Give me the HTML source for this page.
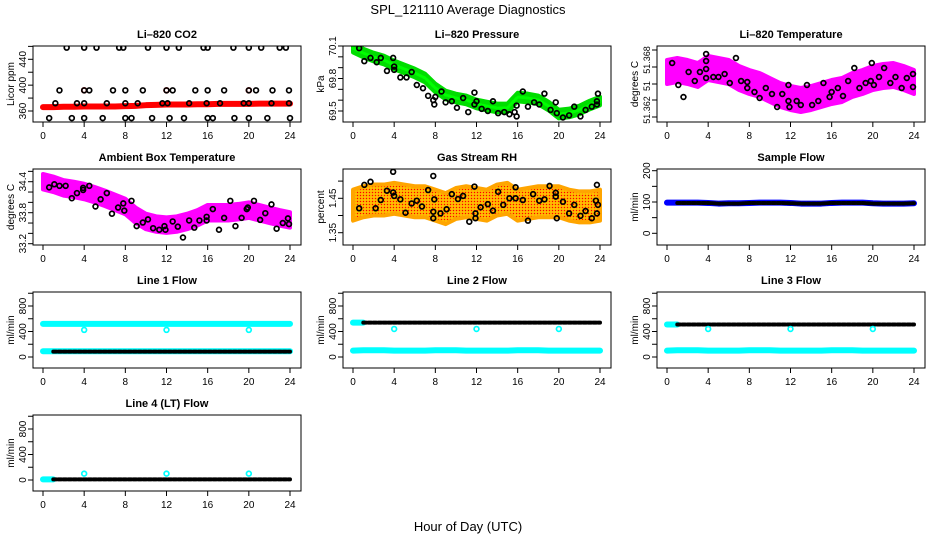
<!DOCTYPE html>
<html><head><meta charset="utf-8"><title>SPL_121110 Average Diagnostics</title>
<style>
html,body{margin:0;padding:0;background:#fff;}
svg{display:block;font-family:"Liberation Sans",Arial,sans-serif;}
</style></head>
<body>
<svg id="chart" width="936" height="540" viewBox="0 0 936 540" xmlns="http://www.w3.org/2000/svg">
<defs>
<pattern id="reddots" width="3" height="3" patternUnits="userSpaceOnUse"><rect width="3" height="3" fill="#ffa500"/><rect x="0" y="0" width="1" height="1" fill="#ff0000"/><rect x="1.5" y="1.5" width="1" height="1" fill="#ffff00"/></pattern>
</defs>
<text x="468" y="14" font-size="13" text-anchor="middle">SPL_121110  Average Diagnostics</text>
<text x="468" y="531" font-size="13" text-anchor="middle">Hour of Day (UTC)</text>
</svg>
<script>
// ---------- data ----------
const hours = [0,1,2,3,4,5,6,7,8,9,10,11,12,13,14,15,16,17,18,19,20,21,22,23,24];
const xTicks = [0,4,8,12,16,20,24];
const xTickLabels = ["0","4","8","12","16","20","24"];

// CO2
const co2Red = [366,366,366.5,366.5,367,367,367,367,367.5,368,369,369.5,370,370,370,370.5,370.5,371,371,371,371,371.5,371.5,371.5,371.5];
const co2BlackH = [2.3,4,5.2,7.4,7.8,10.2,12,13.2,15.6,16,18.5,20,21.2,23,23.6, 1.6,4,4.5,6.8,8,9.7,12,12.6,14.8,16,17.6,20,20.7,22.3,23.9, 1.2,3.3,4,6.2,8,9.2,11.6,12.1,14.2,15.9,17.2,19.5,20,22.2,23.9, 0.6,2.8,4,5.8,8,8.6,10.6,12.3,13.7,16,16.5,18.6,20,21.8,24];
const co2BlackV = [458,458,458,458,458,458,458,458,458,458,458,458,458,458,458, 392,392,392,392,392,392,392,392,392,392,392,392,392,392,392, 372,372,372,372,372,372,372,372,372,372,372,372,372,372,372, 349,349,349,349,349,349,349,349,349,349,349,349,349,349,349];
const co2RedOutH = [4,12,20];
const co2RedOutV = [392,392,392];
const co2Ticks = [360,380,400,420,440,460];
const co2TickLabels = ["360","","400","","440",""];

// Pressure
const presGreen = [70.08,70.035,69.998,69.971,69.925,69.888,69.851,69.805,69.712,69.648,69.62,69.602,69.565,69.546,69.528,69.528,69.629,69.62,69.602,69.546,69.472,69.482,69.509,69.555,69.592];
const presBlackH = [0.6,1.1,1.7,2.3,2.7,3.3,3.9,4,4,4.6,5.2,5.7,6.2,6.8,7.3,7.8,7.9,8,8.6,9,9.6,10.1,10.7,11.2,11.8,11.8,12,12.5,13.1,13.6,14.1,14.7,15.2,15.7,15.9,15.9,16.5,17,17.6,18.1,18.6,19.2,19.7,19.8,20.4,21,21.5,22.1,22.6,23.2,23.7,23.8,23.7];
const presBlackV = [70.08,69.96,69.99,69.95,69.99,69.87,69.99,69.91,69.88,69.81,69.81,69.86,69.74,69.71,69.64,69.60,69.56,69.63,69.68,69.58,69.59,69.53,69.62,69.49,69.67,69.56,69.59,69.52,69.50,69.59,69.48,69.49,69.47,69.49,69.45,69.55,69.68,69.54,69.58,69.56,69.66,69.51,69.58,69.48,69.44,69.46,69.54,69.45,69.51,69.54,69.56,69.66,69.59];
const presTicks = [70.1,70.0,69.9,69.8,69.7,69.6,69.5];
const presTickLabels = ["70.1","","","69.8","","","69.5"];

// Li-820 Temperature
const tempMag = [51.3674,51.3676,51.3674,51.3671,51.3678,51.3676,51.3674,51.3668,51.3664,51.3661,51.3656,51.3651,51.3648,51.3646,51.3648,51.3651,51.3654,51.3656,51.3661,51.3664,51.3668,51.3670,51.3671,51.3668,51.3664];
const tempBlackH = [0.5,1.1,1.6,2.1,2.7,3.2,3.8,3.8,3.8,3.8,4.5,5,5.6,6.1,6.7,7.2,7.8,7.8,8.5,9,9.6,10.2,10.7,11.2,11.8,11.8,11.9,12.6,13,13.6,14.1,14.7,15.2,15.8,16,16.6,17.1,17.6,18.2,18.7,19.3,19.8,19.9,20.1,20.6,21.1,21.7,22.2,22.8,23.3,23.9,23.9];
const tempBlackV = [51.3683,51.3661,51.3649,51.3674,51.3665,51.3674,51.3692,51.3685,51.3677,51.3668,51.3669,51.3669,51.3672,51.3663,51.3688,51.3665,51.3664,51.3658,51.3654,51.3648,51.3658,51.3652,51.3639,51.3652,51.3661,51.3645,51.3639,51.3645,51.3641,51.3661,51.3641,51.3645,51.3663,51.3649,51.3654,51.3658,51.3650,51.3665,51.3678,51.3658,51.3663,51.3665,51.3683,51.3661,51.3669,51.3678,51.3663,51.3669,51.3658,51.3668,51.3672,51.3659];
const tempTicks = [51.3696,51.3679,51.3662,51.3646,51.3629];
const tempLabelVals = [51.3686,51.3660,51.3636];
const tempLabels = ["51.368","51","51.362"];

// Ambient box temperature
const ambMag = [34.40,34.35,34.28,34.25,34.21,34.15,34.08,34.0,33.92,33.75,33.63,33.58,33.56,33.58,33.63,33.7,33.8,33.8,33.8,33.82,33.85,33.8,33.75,33.7,33.66];
const ambBlackH = [0.6,1.1,1.6,2.2,2.8,3.3,3.9,3.9,4.5,5.1,5.6,6.2,6.7,7.3,7.8,7.9,8.6,9.1,9.7,10.2,10.7,11.3,11.8,11.9,12.6,13.1,13.6,14.2,14.7,15.2,15.9,15.9,16.5,17.1,17.6,18.2,18.7,19.3,19.8,19.9,20.5,21.1,21.6,22.2,22.7,23.3,23.8,23.9];
const ambBlackV = [34.29,34.35,34.32,34.32,34.08,34.18,34.28,34.24,34.32,33.92,34.06,34.18,33.78,33.90,33.98,33.84,34.03,33.54,33.61,33.67,33.50,33.47,33.54,33.47,33.63,33.53,33.32,33.65,33.51,33.65,33.65,33.72,33.87,33.47,33.70,34.03,33.54,33.70,33.87,33.90,34.03,33.66,33.79,33.96,33.49,33.60,33.69,33.58];
const ambTicks = [34.6,34.4,34.2,34.0,33.8,33.6,33.4,33.2];
const ambTickLabels = ["","34.4","","","33.8","","","33.2"];

// Gas stream RH
const rhOrange = [1.43,1.44,1.445,1.445,1.45,1.445,1.44,1.44,1.43,1.42,1.435,1.44,1.435,1.43,1.445,1.45,1.43,1.435,1.44,1.44,1.44,1.43,1.425,1.425,1.43];
const rhBlackH = [0.6,1.1,1.7,2.2,2.7,3.3,3.9,3.9,4,4.6,5.1,5.7,6.2,6.7,7.3,7.8,7.8,7.8,7.9,8.5,9.1,9.6,10.2,10.7,11.3,11.8,11.9,11.9,12.4,13.1,13.6,14.1,14.6,15.2,15.8,15.8,16.5,17,17.5,18.1,18.6,19.1,19.7,19.7,19.8,20.4,21,21.5,22.1,22.6,23.2,23.7,23.6,23.8,23.7];
const rhBlackV = [1.421,1.489,1.498,1.421,1.445,1.472,1.527,1.467,1.457,1.447,1.408,1.435,1.443,1.426,1.474,1.515,1.411,1.392,1.447,1.406,1.418,1.462,1.448,1.457,1.382,1.484,1.406,1.392,1.424,1.433,1.414,1.469,1.431,1.45,1.45,1.482,1.445,1.385,1.462,1.443,1.447,1.486,1.466,1.455,1.392,1.440,1.406,1.431,1.399,1.413,1.392,1.489,1.443,1.431,1.406];
const rhTicks = [1.35,1.40,1.45,1.50];
const rhTickLabels = ["1.35","","1.45",""];

// Sample flow
const sampleBlue = [98,98,98,98,97,95,96,96,97,98,98,98,97,95,95,95,97,98,98,98,96,95,95,95,96];
const sampleBlack = [97,97,97,97,97,95,95,95,97,97,97,97,96,95,95,95,97,97,97,97,95,95,95,95,96];
const sampleTicks = [0,50,100,150,200];
const sampleTickLabels = ["0","","100","","200"];

// Line flows
const flowTicks = [0,200,400,600,800,1000];
const flowTickLabels = ["0","","400","","800",""];
const outlierH = [4,12,20];
const line1CyanHigh = [520,520,520,520,520,520,520,520,520,520,520,520,520,520,520,520,520,520,520,520,520,520,520,520,520];
const line1CyanLow = [90,90,90,90,90,90,90,90,90,90,90,90,90,90,90,90,90,90,90,90,90,90,90,90,90];
const line1Black = [84,84,84,84,84,84,84,84,84,84,84,84,84,84,84,84,84,84,84,84,84,84,84,84,84];
const line1Out = [425,425,425];
const line2Black = [540,540,540,540,540,540,540,540,540,540,540,540,540,540,540,540,540,540,540,540,540,540,540,540,540];
const line2CyanLow = [100,105,105,105,100,100,100,100,105,105,105,100,100,100,100,100,105,105,105,100,100,100,100,100,100];
const line2Out = [440,440,440];
const line3Black = [510,510,510,510,510,510,510,510,510,510,510,510,510,510,510,510,510,510,510,510,510,510,510,510,510];
const line3CyanLow = [100,105,105,105,100,100,100,100,105,105,105,100,100,100,100,100,105,105,105,100,100,100,100,100,100];
const line3Out = [440,440,440];
const line4Black = [10,10,10,10,10,10,10,10,10,10,10,10,10,10,10,10,10,10,10,10,10,10,10,10,10];
const line4Out = [100,100,100];

// ---------- drawing ----------
const NS = "http://www.w3.org/2000/svg";
const svg = document.getElementById("chart");
const colLeft = [33,343,657];
const rowTop = [46,169,292,415];
const W = 268, H = 76;

function el(tag, attrs, parent) {
  const e = document.createElementNS(NS, tag);
  for (const k in attrs) e.setAttribute(k, attrs[k]);
  (parent || svg).appendChild(e);
  return e;
}

function makePanel(name, col, row, title, ylab, a1, a2, ticks, tickLabels, labelVals, labelSize) {
  const L = colLeft[col], T = rowTop[row];
  const g = el("g", {});
  
  
  const x = h => L + 10 + h / 24 * (W - 21);
  const y = v => a1[1] + (v - a1[0]) * (a2[1] - a1[1]) / (a2[0] - a1[0]);
  const plot = el("g", {"clip-path": "url(#clip-" + name + ")"}, g);
  
  
  const cp = el("clipPath", {id: "clip-" + name}, svg);
  el("rect", {x: L, y: T, width: W, height: H}, cp);
  const frame = el("rect", {x: L, y: T, width: W, height: H, fill: "none", stroke: "#000", "stroke-width": 1}, g);
  
  
  const t = el("text", {x: L + W / 2, y: T - 8, "font-size": 11, "font-weight": "bold", "text-anchor": "middle"}, g);
  t.textContent = title;
  
  
  const yl = el("text", {transform: "translate(" + (L - 19) + "," + (T + H / 2) + ") rotate(-90)", "font-size": 10, "text-anchor": "middle"}, g);
  yl.textContent = ylab;
  
  
  xTicks.forEach((h, i) => {
    const tk = el("line", {x1: x(h), x2: x(h), y1: T + H, y2: T + H + 5, stroke: "#000"}, g);
    
    
    const lb = el("text", {x: x(h), y: T + H + 17, "font-size": 10, "text-anchor": "middle"}, g);
    lb.textContent = xTickLabels[i];
    
    
  });
  ticks.forEach((v, i) => {
    const tk = el("line", {x1: L - 5, x2: L, y1: y(v), y2: y(v), stroke: "#000"}, g);
    
    
    const lv = labelVals ? labelVals[i] : v;
    if (tickLabels[i] && lv !== undefined) {
      const lb = el("text", {transform: "translate(" + (L - 7) + "," + y(lv) + ") rotate(-90)", "font-size": labelSize || 10, "text-anchor": "middle"}, g);
      lb.textContent = tickLabels[i];
      
      
    }
  });
  return {g: plot, x, y};
}

function points(p, hs, vs, color, name) {
  const n = Math.min(hs.length, vs.length);
  for (let i = 0; i < n; i++) {
    const c = el("circle", {cx: p.x(hs[i]), cy: p.y(vs[i]), r: 2.4, fill: "none", stroke: color, "stroke-width": 1.7}, p.g);
    
    
  }
}
function line(p, hs, vs, color, width, name, dash) {
  const n = Math.min(hs.length, vs.length);
  const pts = [];
  for (let i = 0; i < n; i++) pts.push(p.x(hs[i]) + "," + p.y(vs[i]));
  const pl = el("polyline", {points: pts.join(" "), fill: "none", stroke: color, "stroke-width": width, "stroke-linejoin": "round", "stroke-linecap": "round"}, p.g);
  if (dash) pl.setAttribute("stroke-dasharray", dash);
  
  
}
function band(p, hs, vs, spread, fill, name) {
  const up = [], lo = [];
  for (let i = 0; i < hs.length; i++) {
    up.push(p.x(hs[i]) + "," + p.y(vs[i] + spread));
    lo.unshift(p.x(hs[i]) + "," + p.y(vs[i] - spread));
  }
  const pg = el("polygon", {points: up.concat(lo).join(" "), fill: fill, stroke: fill === "url(#reddots)" ? "#ffa500" : fill, "stroke-width": 4, "stroke-linejoin": "round"}, p.g);
  
  
}

const pCO2 = makePanel("co2", 0, 0, "Li\u2013820 CO2", "Licor ppm", [360, 111], [440, 59.3], co2Ticks, co2TickLabels);
line(pCO2, hours, co2Red, "#ff0000", 6, "co2-red-series");
points(pCO2, co2RedOutH, co2RedOutV, "#ff0000", "co2-red-point");
points(pCO2, co2BlackH, co2BlackV, "#000", "co2-black-point");

const pPres = makePanel("pressure", 1, 0, "Li\u2013820 Pressure", "kPa", [70.1, 46], [69.5, 111], presTicks, presTickLabels);
band(pPres, hours, presGreen, 0.04, "#00dd00", "pressure-green-band");
line(pPres, hours, presGreen, "#00ff00", 3, "pressure-green-series", "2 2");
points(pPres, presBlackH, presBlackV, "#000", "pressure-black-point");

const pTemp = makePanel("li820-temperature", 2, 0, "Li\u2013820 Temperature", "degrees C", [51.37, 46], [51.36, 146], tempTicks, ["", tempLabels[0], tempLabels[1], tempLabels[2], ""], [undefined, tempLabelVals[0], tempLabelVals[1], tempLabelVals[2], undefined], 9);
band(pTemp, hours, tempMag, 0.0012, "#ff00ff", "temperature-magenta-band");
points(pTemp, tempBlackH, tempBlackV, "#000", "temperature-black-point");

const pAmb = makePanel("ambient-temperature", 0, 1, "Ambient Box Temperature", "degrees C", [34.4, 181.7], [33.8, 212.7], ambTicks, ambTickLabels);
band(pAmb, hours, ambMag, 0.15, "#ff00ff", "ambient-magenta-band");
points(pAmb, ambBlackH, ambBlackV, "#000", "ambient-black-point");

const pRH = makePanel("gas-stream-rh", 1, 1, "Gas Stream RH", "percent", [1.45, 198.3], [1.35, 232.7], rhTicks, rhTickLabels);
band(pRH, hours, rhOrange, 0.045, "url(#reddots)", "rh-orange-band");
points(pRH, rhBlackH, rhBlackV, "#000", "rh-black-point");

const pSF = makePanel("sample-flow", 2, 1, "Sample Flow", "ml/min", [0, 233.3], [200, 170.7], sampleTicks, sampleTickLabels);
line(pSF, hours, sampleBlue, "#0000ff", 6, "sample-flow-blue-series");
line(pSF, hours.slice(1), sampleBlack.slice(1), "#000", 4, "sample-flow-black-series", "3 2");

const pL1 = makePanel("line1-flow", 0, 2, "Line 1 Flow", "ml/min", [0, 357], [800, 306], flowTicks, flowTickLabels);
line(pL1, hours, line1CyanHigh, "#00ffff", 6, "line1-cyan-high-series");
line(pL1, hours, line1CyanLow, "#00ffff", 6, "line1-cyan-low-series");
line(pL1, hours.slice(1), line1Black.slice(1), "#000", 4, "line1-black-series", "3 2");
points(pL1, outlierH, line1Out, "#00ffff", "line1-cyan-outlier");

const pL2 = makePanel("line2-flow", 1, 2, "Line 2 Flow", "ml/min", [0, 357], [800, 306], flowTicks, flowTickLabels);
line(pL2, hours, line2CyanLow, "#00ffff", 6, "line2-cyan-low-series");
line(pL2, hours.slice(0, 2), line2Black.slice(0, 2), "#00ffff", 6, "line2-cyan-high-series");
line(pL2, hours.slice(1), line2Black.slice(1), "#000", 4, "line2-black-series", "3 2");
points(pL2, outlierH, line2Out, "#00ffff", "line2-cyan-outlier");

const pL3 = makePanel("line3-flow", 2, 2, "Line 3 Flow", "ml/min", [0, 357], [800, 306], flowTicks, flowTickLabels);
line(pL3, hours, line3CyanLow, "#00ffff", 6, "line3-cyan-low-series");
line(pL3, hours.slice(0, 2), line3Black.slice(0, 2), "#00ffff", 6, "line3-cyan-high-series");
line(pL3, hours.slice(1), line3Black.slice(1), "#000", 4, "line3-black-series", "3 2");
points(pL3, outlierH, line3Out, "#00ffff", "line3-cyan-outlier");

const pL4 = makePanel("line4-flow", 0, 3, "Line 4 (LT) Flow", "ml/min", [0, 480], [800, 429], flowTicks, flowTickLabels);
line(pL4, hours.slice(0, 2), line4Black.slice(0, 2), "#00ffff", 6, "line4-cyan-series");
line(pL4, hours.slice(1), line4Black.slice(1), "#000", 4, "line4-black-series", "3 2");
points(pL4, outlierH, line4Out, "#00ffff", "line4-cyan-outlier");
</script>
</body></html>
